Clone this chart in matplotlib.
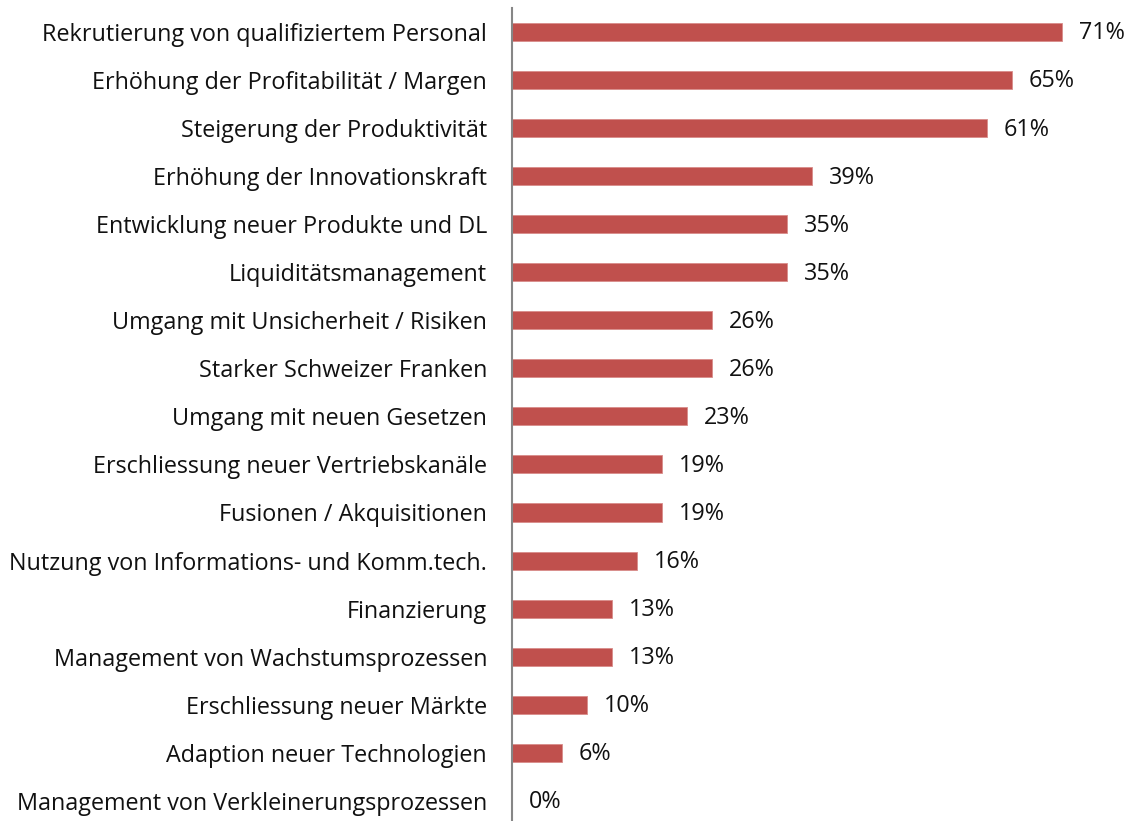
import matplotlib
matplotlib.use("Agg")
import matplotlib.pyplot as plt

# responses per challenge out of 31 respondents
categories = [
    "Rekrutierung von qualifiziertem Personal",
    "Erhöhung der Profitabilität / Margen",
    "Steigerung der Produktivität",
    "Erhöhung der Innovationskraft",
    "Entwicklung neuer Produkte und DL",
    "Liquiditätsmanagement",
    "Umgang mit Unsicherheit / Risiken",
    "Starker Schweizer Franken",
    "Umgang mit neuen Gesetzen",
    "Erschliessung neuer Vertriebskanäle",
    "Fusionen / Akquisitionen",
    "Nutzung von Informations- und Komm.tech.",
    "Finanzierung",
    "Management von Wachstumsprozessen",
    "Erschliessung neuer Märkte",
    "Adaption neuer Technologien",
    "Management von Verkleinerungsprozessen",
]
counts = [22, 20, 19, 12, 11, 11, 8, 8, 7, 6, 6, 5, 4, 4, 3, 2, 0]
n_resp = 31
shares = [c / n_resp * 100 for c in counts]

plt.rcParams['font.family'] = ['Open Sans', 'DejaVu Sans']

fig = plt.figure(figsize=(11.27, 8.21), dpi=100)
ax = fig.add_axes([512 / 1127, 1 - 820 / 821, 1 - 512 / 1127, 812 / 821])

y = list(range(len(categories)))
ax.barh(y, shares, height=0.375, color='#C0504D', edgecolor='#D98C8A', linewidth=0.6)
for yi, v in zip(y, shares):
    ax.annotate(f"{v:.0f}%", (v, yi), xytext=(12.2, -1), textcoords='offset points',
                va='center', ha='left', fontsize=16.8, color='#111111')

ax.set_xlim(0, 79.35)
ax.set_ylim(16.4, -0.5)
ax.set_yticks(y)
ax.set_yticklabels(categories, fontsize=16.8, color='#111111')
ax.tick_params(axis='y', length=0, pad=18)
ax.set_xticks([])
for s in ['top', 'right', 'bottom']:
    ax.spines[s].set_visible(False)
ax.spines['left'].set_color('#868686')
ax.spines['left'].set_linewidth(1.5)

fig.savefig('out.png', dpi=100)
